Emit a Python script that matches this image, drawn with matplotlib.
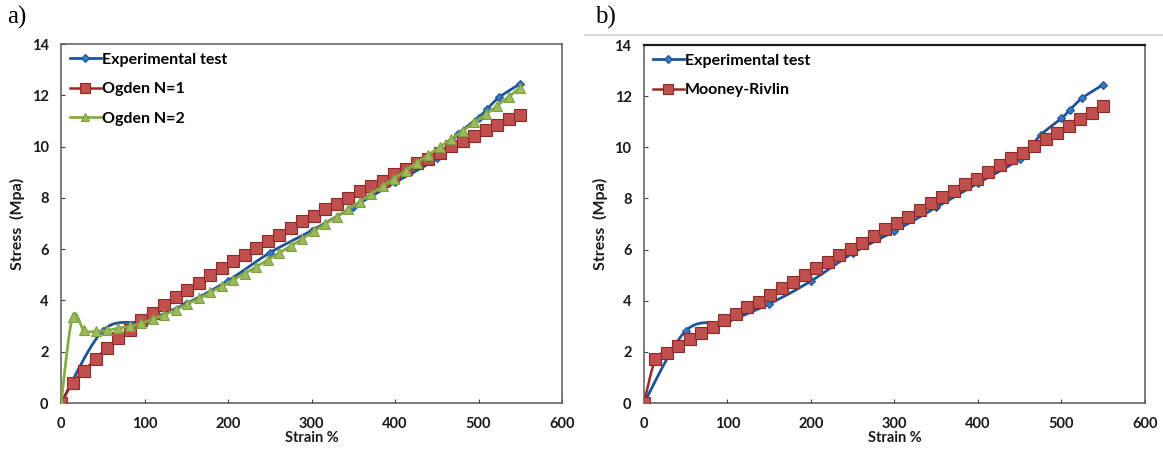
import numpy as np
import matplotlib
matplotlib.use("Agg")
import matplotlib.pyplot as plt
from matplotlib.lines import Line2D

# ---------------- data ----------------
exp_strain = [0, 50, 100, 150, 200, 250, 300, 350, 400, 450, 475, 500, 510, 525, 550]
exp_stress = [0, 2.82, 3.2, 3.88, 4.77, 5.86, 6.72, 7.65, 8.6, 9.55, 10.48, 11.13, 11.46, 11.93, 12.45]

model_strain = [0, 13.75, 27.5, 41.25, 55, 68.75, 82.5, 96.25, 110, 123.75, 137.5,
                151.25, 165, 178.75, 192.5, 206.25, 220, 233.75, 247.5, 261.25, 275,
                288.75, 302.5, 316.25, 330, 343.75, 357.5, 371.25, 385, 398.75, 412.5,
                426.25, 440, 453.75, 467.5, 481.25, 495, 508.75, 522.5, 536.25, 550]

ogden1_stress = [0, 0.77, 1.26, 1.71, 2.16, 2.53, 2.85, 3.25, 3.51, 3.83, 4.13,
                 4.42, 4.68, 5.0, 5.27, 5.53, 5.79, 6.05, 6.31, 6.57, 6.83,
                 7.09, 7.31, 7.55, 7.78, 8.0, 8.26, 8.46, 8.65, 8.92, 9.14,
                 9.37, 9.53, 9.76, 10.02, 10.22, 10.41, 10.64, 10.83, 11.07, 11.24]

ogden2_stress = [0, 3.36, 2.83, 2.79, 2.83, 2.92, 2.99, 3.11, 3.27, 3.44, 3.64,
                 3.86, 4.08, 4.31, 4.55, 4.8, 5.05, 5.31, 5.58, 5.85, 6.12,
                 6.4, 6.69, 6.98, 7.27, 7.56, 7.85, 8.15, 8.45, 8.75, 9.06,
                 9.37, 9.68, 9.99, 10.3, 10.62, 10.94, 11.26, 11.6, 11.95, 12.3]

mooney_stress = [0, 1.72, 1.96, 2.23, 2.5, 2.74, 2.98, 3.24, 3.47, 3.74, 3.96,
                 4.22, 4.48, 4.74, 5.0, 5.27, 5.53, 5.79, 6.01, 6.27, 6.52,
                 6.79, 7.05, 7.29, 7.55, 7.81, 8.04, 8.3, 8.55, 8.77, 9.05,
                 9.31, 9.57, 9.79, 10.06, 10.33, 10.57, 10.83, 11.1, 11.33, 11.62]

x_ticks = [0, 100, 200, 300, 400, 500, 600]
y_ticks = [0, 2, 4, 6, 8, 10, 12, 14]

# ---------------- style ----------------
FONT = "Lato"
plt.rcParams['font.family'] = [FONT, 'DejaVu Sans']
BLUE_L, BLUE_M = '#1d5496', '#3b78c2'
RED_L, RED_F, RED_E = '#9b2a27', '#c0504d', '#8c2a28'
GRN_L, GRN_F, GRN_E = '#86ac44', '#9bbb59', '#7f9e44'


def excel_smooth(x, y, n=24):
    """Excel-style smoothed line (Bezier, control points from neighbour chords / 6)."""
    x = np.asarray(x, float); y = np.asarray(y, float)
    P = np.column_stack([x, y])
    out = [P[0]]
    m = len(P)
    for i in range(m - 1):
        p0 = P[i - 1] if i > 0 else P[i]
        p1, p2 = P[i], P[i + 1]
        p3 = P[i + 2] if i + 2 < m else P[i + 1]
        c1 = p1 + (p2 - p0) / 6.0
        c2 = p2 - (p3 - p1) / 6.0
        t = np.linspace(0, 1, n)[1:, None]
        seg = ((1 - t) ** 3) * p1 + 3 * ((1 - t) ** 2) * t * c1 + 3 * (1 - t) * t ** 2 * c2 + t ** 3 * p2
        out.extend(seg)
    out = np.array(out)
    return out[:, 0], out[:, 1]


def series(ax, x, y, lc, marker, ms, mfc, mec, lw=2.0, z=2):
    sx, sy = excel_smooth(x, y)
    ax.plot(sx, sy, color=lc, lw=lw, zorder=z, solid_capstyle='round')
    ax.plot(x, y, ls='none', marker=marker, ms=ms, mfc=mfc, mec=mec, mew=0.8, zorder=z + 0.5)
    return Line2D([], [], color=lc, lw=lw, marker=marker, ms=ms * 0.9, mfc=mfc, mec=mec, mew=0.8)


def style_axes(ax):
    ax.set_xlim(0, 600)
    ax.set_ylim(0, 14)
    ax.set_xticks(x_ticks)
    ax.set_yticks(y_ticks)
    ax.tick_params(direction='in', length=3, width=0.8, color='#404040',
                   labelsize=10.5)
    ax.tick_params(axis='x', pad=10)
    ax.tick_params(axis='y', pad=9)
    for lab in ax.get_xticklabels() + ax.get_yticklabels():
        lab.set_fontweight('bold')
        lab.set_color('#1a1a1a')
    for s in ax.spines.values():
        s.set_color('#595959')
        s.set_linewidth(1.1)
    ax.set_xlabel('Strain %', fontsize=10.5, fontweight='bold', labelpad=0, color='#1a1a1a')
    ax.set_ylabel('Stress  (Mpa)', fontsize=11.5, fontweight='bold', labelpad=5, color='#1a1a1a')


fig = plt.figure(figsize=(11.63, 4.49), dpi=100)
ax1 = fig.add_axes([0.0525, 0.1024, 0.4308, 0.7996])
ax2 = fig.add_axes([0.5537, 0.1024, 0.4308, 0.7973])

leg_kw = dict(loc='upper left', frameon=False, handlelength=1.95,
              handletextpad=0.05, labelspacing=0.95, borderaxespad=0.15,
              prop={'weight': 'bold', 'size': 11.5})

# panel a
h_exp = series(ax1, exp_strain, exp_stress, BLUE_L, 'D', 4, BLUE_M, BLUE_L, lw=2.0, z=2)
h_o1 = series(ax1, model_strain, ogden1_stress, RED_L, 's', 8, RED_F, RED_E, lw=1.8, z=3)
h_o2 = series(ax1, model_strain, ogden2_stress, GRN_L, '^', 7, GRN_F, GRN_E, lw=2.0, z=4)
style_axes(ax1)
ax1.legend([h_exp, h_o1, h_o2], ['Experimental test', 'Ogden N=1', 'Ogden N=2'], **leg_kw)

# panel b
h_exp2 = series(ax2, exp_strain, exp_stress, BLUE_L, 'D', 4, BLUE_M, BLUE_L, lw=2.0, z=2)
h_mr = series(ax2, model_strain, mooney_stress, RED_L, 's', 8, RED_F, RED_E, lw=1.8, z=3)
style_axes(ax2)
ax2.spines['top'].set_color('#1a1a1a')
ax2.spines['top'].set_linewidth(1.6)
ax2.legend([h_exp2, h_mr], ['Experimental test', 'Mooney-Rivlin'], **leg_kw)

fig.text(0.006, 0.962, 'a)', fontsize=18, family=['Liberation Serif', 'DejaVu Serif'], va='center', ha='left')
fig.text(0.512, 0.962, 'b)', fontsize=18, family=['Liberation Serif', 'DejaVu Serif'], va='center', ha='left')
fig.add_artist(Line2D([0.503, 1.0], [0.922, 0.922], transform=fig.transFigure,
                      color='#d4d4d4', lw=1.2))

fig.savefig('out.png', dpi=100)
